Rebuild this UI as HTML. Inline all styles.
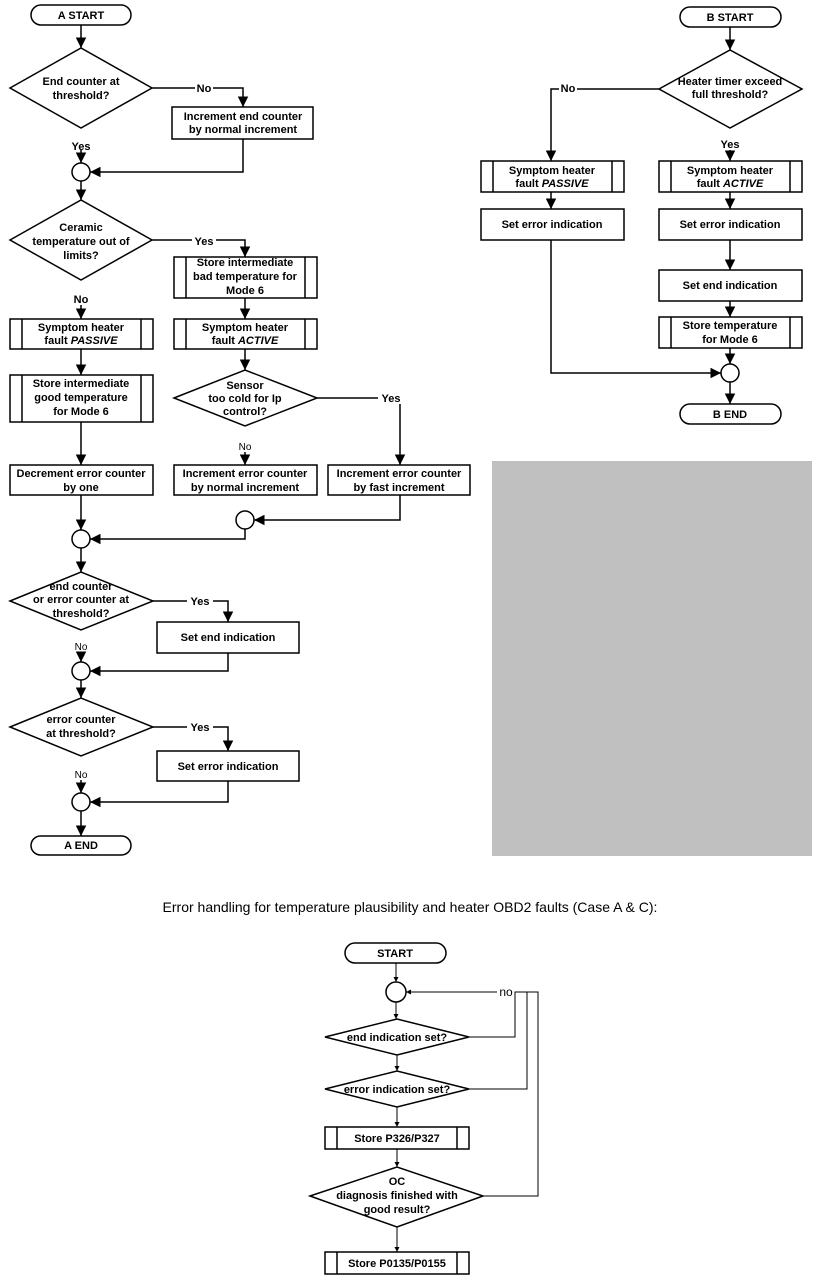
<!DOCTYPE html>
<html><head><meta charset="utf-8"><style>
html,body{margin:0;padding:0;background:#fff;}
svg{display:block;}
text{font-family:"Liberation Sans",Arial,sans-serif;font-size:11px;font-weight:bold;fill:#000;}
.n{font-weight:normal;}
</style></head><body>
<svg width="824" height="1283" viewBox="0 0 824 1283" xmlns="http://www.w3.org/2000/svg">
<defs>
<marker id="a" viewBox="0 0 10 10" refX="10" refY="5" markerWidth="7" markerHeight="7" orient="auto"><path d="M0,0 L10,5 L0,10 z" fill="#000"/></marker>
<marker id="s" viewBox="0 0 10 10" refX="10" refY="5" markerWidth="5" markerHeight="5" orient="auto"><path d="M0,0 L10,5 L0,10 z" fill="#000"/></marker>
</defs>
<g fill="#fff" stroke="#000" stroke-width="1.5">
<!-- A -->
<rect x="31" y="5" width="100" height="20" rx="10"/>
<polygon points="10,88 81,48 152,88 81,128"/>
<rect x="172" y="107" width="141" height="32"/>
<circle cx="81" cy="172" r="9"/>
<polygon points="10,240 81,200 152,240 81,280"/>
<rect x="174" y="257" width="143" height="41"/><line x1="186" y1="257" x2="186" y2="298"/><line x1="305" y1="257" x2="305" y2="298"/>
<rect x="10" y="319" width="143" height="30"/><line x1="22" y1="319" x2="22" y2="349"/><line x1="141" y1="319" x2="141" y2="349"/>
<rect x="174" y="319" width="143" height="30"/><line x1="186" y1="319" x2="186" y2="349"/><line x1="305" y1="319" x2="305" y2="349"/>
<rect x="10" y="375" width="143" height="47"/><line x1="22" y1="375" x2="22" y2="422"/><line x1="141" y1="375" x2="141" y2="422"/>
<polygon points="174,398 245,370 317,398 245,426"/>
<rect x="10" y="465" width="143" height="30"/>
<rect x="174" y="465" width="143" height="30"/>
<rect x="328" y="465" width="142" height="30"/>
<circle cx="245" cy="520" r="9"/>
<circle cx="81" cy="539" r="9"/>
<polygon points="10,601 81,572 153,601 81,630"/>
<rect x="157" y="622" width="142" height="31"/>
<circle cx="81" cy="671" r="9"/>
<polygon points="10,727 81,698 153,727 81,756"/>
<rect x="157" y="751" width="142" height="30"/>
<circle cx="81" cy="802" r="9"/>
<rect x="31" y="836" width="100" height="19" rx="9.5"/>
<!-- B -->
<rect x="680" y="7" width="101" height="20" rx="10"/>
<polygon points="659,89 730,50 802,89 730,128"/>
<rect x="481" y="161" width="143" height="31"/><line x1="493" y1="161" x2="493" y2="192"/><line x1="612" y1="161" x2="612" y2="192"/>
<rect x="659" y="161" width="143" height="31"/><line x1="671" y1="161" x2="671" y2="192"/><line x1="790" y1="161" x2="790" y2="192"/>
<rect x="481" y="209" width="143" height="31"/>
<rect x="659" y="209" width="143" height="31"/>
<rect x="659" y="270" width="143" height="31"/>
<rect x="659" y="317" width="143" height="31"/><line x1="671" y1="317" x2="671" y2="348"/><line x1="790" y1="317" x2="790" y2="348"/>
<circle cx="730" cy="373" r="9"/>
<rect x="680" y="404" width="101" height="20" rx="10"/>
<!-- bottom -->
<rect x="345" y="943" width="101" height="20" rx="10"/>
<circle cx="396" cy="992" r="10"/>
<polygon points="325,1037 397,1019 469,1037 397,1055"/>
<polygon points="325,1089 397,1071 469,1089 397,1107"/>
<rect x="325" y="1127" width="144" height="22"/><line x1="337" y1="1127" x2="337" y2="1149"/><line x1="457" y1="1127" x2="457" y2="1149"/>
<polygon points="310,1196 397,1167 483,1196 397,1227"/>
<rect x="325" y="1252" width="144" height="22"/><line x1="337" y1="1252" x2="337" y2="1274"/><line x1="457" y1="1252" x2="457" y2="1274"/>
</g>
<rect x="492" y="461" width="320" height="395" fill="#c0c0c0"/>
<g fill="none" stroke="#000" stroke-width="1.5" marker-end="url(#a)">
<path d="M81,25 V48"/>
<path d="M152,88 H243 V107"/>
<path d="M81,150 V163"/>
<path d="M243,139 V172 H90"/>
<path d="M81,181 V200"/>
<path d="M152,240 H245 V257"/>
<path d="M81,305 V319"/>
<path d="M245,298 V319"/>
<path d="M81,349 V375"/>
<path d="M245,349 V370"/>
<path d="M317,398 H400 V465"/>
<path d="M245,452 V465"/>
<path d="M81,422 V465"/>
<path d="M400,495 V520 H254"/>
<path d="M81,495 V530"/>
<path d="M245,529 V539 H90"/>
<path d="M81,548 V572"/>
<path d="M153,601 H228 V622"/>
<path d="M81,652 V662"/>
<path d="M228,653 V671 H90"/>
<path d="M81,680 V698"/>
<path d="M153,727 H228 V751"/>
<path d="M81,780 V793"/>
<path d="M228,781 V802 H90"/>
<path d="M81,811 V836"/>
<path d="M730,27 V50"/>
<path d="M659,89 H551 V161"/>
<path d="M730,150 V161"/>
<path d="M551,192 V209"/>
<path d="M730,192 V209"/>
<path d="M730,240 V270"/>
<path d="M730,301 V317"/>
<path d="M730,348 V364"/>
<path d="M551,240 V373 H721"/>
<path d="M730,382 V404"/>
</g>
<g fill="none" stroke="#000" stroke-width="1" marker-end="url(#s)">
<path d="M396,963 V982"/>
<path d="M396,1002 V1019"/>
<path d="M397,1055 V1071"/>
<path d="M397,1107 V1127"/>
<path d="M397,1149 V1167"/>
<path d="M397,1227 V1252"/>
<path d="M498,992 H406"/>
</g>
<g fill="none" stroke="#000" stroke-width="1">
<path d="M469,1037 H515 V992 H538 V1196 H483"/>
<path d="M469,1089 H527 V992"/>
</g>
<rect x="497" y="985" width="17" height="13" fill="#fff"/>
<g fill="#fff">
<rect x="195" y="82" width="18" height="12"/>
<rect x="192" y="234" width="24" height="12"/>
<rect x="187" y="595" width="26" height="12"/>
<rect x="187" y="721" width="26" height="12"/>
<rect x="378" y="392" width="26" height="12"/>
<rect x="559" y="83" width="18" height="12"/>
</g>
<g text-anchor="middle">
<text x="81" y="19">A START</text>
<text x="81" y="85">End counter at</text><text x="81" y="99">threshold?</text>
<text x="204" y="92">No</text>
<text x="243" y="120">Increment end counter</text><text x="243" y="133">by normal increment</text>
<text x="81" y="150">Yes</text>
<text x="81" y="231">Ceramic</text><text x="81" y="245">temperature out of</text><text x="81" y="259">limits?</text>
<text x="204" y="245">Yes</text>
<text x="245" y="266">Store intermediate</text><text x="245" y="280">bad temperature for</text><text x="245" y="294">Mode 6</text>
<text x="81" y="303">No</text>
<text x="81" y="331">Symptom heater</text><text x="81" y="344">fault <tspan font-style="italic">PASSIVE</tspan></text>
<text x="245" y="331">Symptom heater</text><text x="245" y="344">fault <tspan font-style="italic">ACTIVE</tspan></text>
<text x="81" y="387">Store intermediate</text><text x="81" y="401">good temperature</text><text x="81" y="415">for Mode 6</text>
<text x="245" y="389">Sensor</text><text x="245" y="402">too cold for Ip</text><text x="245" y="415">control?</text>
<text x="391" y="402">Yes</text>
<text x="245" y="450" class="n" style="font-size:10px">No</text>
<text x="81" y="477">Decrement error counter</text><text x="81" y="491">by one</text>
<text x="245" y="477">Increment error counter</text><text x="245" y="491">by normal increment</text>
<text x="399" y="477">Increment error counter</text><text x="399" y="491">by fast increment</text>
<text x="81" y="590">end counter</text><text x="81" y="603">or error counter at</text><text x="81" y="617">threshold?</text>
<text x="200" y="605">Yes</text>
<text x="228" y="641">Set end indication</text>
<text x="81" y="650" class="n" style="font-size:10px">No</text>
<text x="81" y="723">error counter</text><text x="81" y="737">at threshold?</text>
<text x="200" y="731">Yes</text>
<text x="228" y="770">Set error indication</text>
<text x="81" y="778" class="n" style="font-size:10px">No</text>
<text x="81" y="849">A END</text>
<text x="730" y="21">B START</text>
<text x="730" y="85">Heater timer exceed</text><text x="730" y="98">full threshold?</text>
<text x="568" y="92">No</text>
<text x="730" y="148">Yes</text>
<text x="552" y="174">Symptom heater</text><text x="552" y="187">fault <tspan font-style="italic">PASSIVE</tspan></text>
<text x="730" y="174">Symptom heater</text><text x="730" y="187">fault <tspan font-style="italic">ACTIVE</tspan></text>
<text x="552" y="228">Set error indication</text>
<text x="730" y="228">Set error indication</text>
<text x="730" y="289">Set end indication</text>
<text x="730" y="329">Store temperature</text><text x="730" y="343">for Mode 6</text>
<text x="730" y="418">B END</text>
<text x="410" y="912" class="n" style="font-size:14px">Error handling for temperature plausibility and heater OBD2 faults (Case A &amp; C):</text>
<text x="395" y="957">START</text>
<text x="506" y="996" class="n" style="font-size:12px">no</text>
<text x="397" y="1041">end indication set?</text>
<text x="397" y="1093">error indication set?</text>
<text x="397" y="1142">Store P326/P327</text>
<text x="397" y="1185">OC</text><text x="397" y="1199">diagnosis finished with</text><text x="397" y="1213">good result?</text>
<text x="397" y="1267">Store P0135/P0155</text>
</g>
</svg>
</body></html>
